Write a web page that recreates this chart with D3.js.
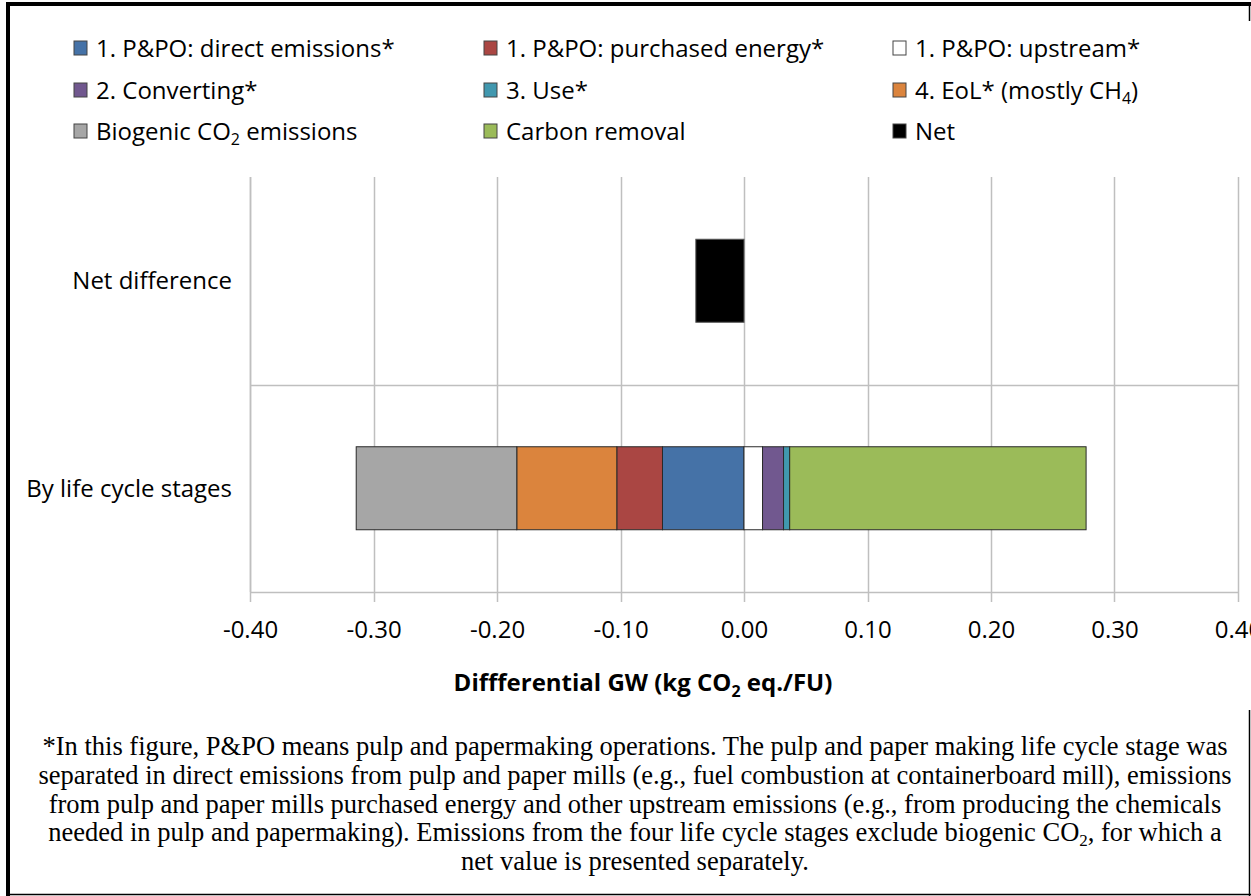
<!DOCTYPE html>
<html>
<head>
<meta charset="utf-8">
<script src="https://cdn.jsdelivr.net/npm/d3@7"></script>
<style>
  html, body { margin: 0; padding: 0; background: #fff; }
  svg { display: block; }
</style>
</head>
<body>
<svg id="chart" width="1251" height="896"></svg>
<script>
// ---------- data ----------
const categories = ["Net difference", "By life cycle stages"];
const seriesKeys = ["direct", "purchased", "upstream", "converting", "use", "eol", "biogenic", "removal", "net"];
const seriesLabels = [
  "1. P&PO: direct emissions*",
  "1. P&PO: purchased energy*",
  "1. P&PO: upstream*",
  "2. Converting*",
  "3. Use*",
  "4. EoL* (mostly CH_{4})",
  "Biogenic CO_{2} emissions",
  "Carbon removal",
  "Net"
];
const seriesColors = ["#4572A7", "#AA4643", "#FFFFFF", "#71588F", "#4198AF", "#DB843D", "#A6A6A6", "#9BBB59", "#000000"];
// values per category: [Net difference, By life cycle stages]
const directEmissions = [0, -0.066];
const purchasedEnergy = [0, -0.037];
const upstreamEm      = [0, 0.015];
const converting      = [0, 0.017];
const useStage        = [0, 0.005];
const endOfLife       = [0, -0.081];
const biogenicCO2     = [0, -0.130];
const carbonRemoval   = [0, 0.240];
const netValue        = [-0.039, 0];
const xTicks = [-0.40, -0.30, -0.20, -0.10, 0.00, 0.10, 0.20, 0.30, 0.40];
const xTitle = "Diffferential GW (kg CO_{2} eq./FU)";
const captionLines = [
  "*In this figure, P&PO means pulp and papermaking operations. The pulp and paper making life cycle stage was",
  "separated in direct emissions from pulp and paper mills (e.g., fuel combustion at containerboard mill), emissions",
  "from pulp and paper mills purchased energy and other upstream emissions (e.g., from producing the chemicals",
  "needed in pulp and papermaking). Emissions from the four life cycle stages exclude biogenic CO_{2}, for which a",
  "net value is presented separately."
];

const seriesValues = [directEmissions, purchasedEnergy, upstreamEm, converting, useStage, endOfLife, biogenicCO2, carbonRemoval, netValue];
const table = categories.map((c, i) => {
  const row = { category: c };
  seriesKeys.forEach((k, j) => row[k] = seriesValues[j][i]);
  return row;
});

// ---------- helpers ----------
function richText(sel, str, subSize, shift) {
  const parts = str.split(/(_\{[^}]*\})/).filter(p => p);
  let pendingUp = false;
  parts.forEach(p => {
    const m = p.match(/^_\{([^}]*)\}$/);
    if (m) {
      sel.append("tspan").attr("font-size", subSize).attr("dy", shift).text(m[1]);
      pendingUp = true;
    } else {
      const ts = sel.append("tspan").text(p);
      if (pendingUp) { ts.attr("dy", -shift); pendingUp = false; }
    }
  });
}

// ---------- layout ----------
const svg = d3.select("#chart");
const plot = { left: 250, right: 1238, top: 177, bottom: 592 };

const x = d3.scaleLinear().domain([-0.4, 0.4]).range([plot.left, plot.right]);
const y = d3.scaleBand().domain(categories).range([plot.top, plot.bottom]).paddingInner(0.6).paddingOuter(0.3);

// borders
svg.append("rect").attr("x", 6).attr("y", 2).attr("width", 1245).attr("height", 4).attr("fill", "#000");
svg.append("rect").attr("x", 6).attr("y", 2).attr("width", 4).attr("height", 894).attr("fill", "#000");
svg.append("line").attr("x1", 1249.5).attr("x2", 1249.5).attr("y1", 2).attr("y2", 21).attr("stroke", "#000").attr("stroke-width", 1.5);
svg.append("line").attr("x1", 1249.5).attr("x2", 1249.5).attr("y1", 710).attr("y2", 896).attr("stroke", "#000").attr("stroke-width", 1.5);
svg.append("line").attr("x1", 6).attr("x2", 1251).attr("y1", 894.5).attr("y2", 894.5).attr("stroke", "#000").attr("stroke-width", 1.5);

// vertical gridlines
const gridColor = "#BFBFBF";
svg.append("g").selectAll("line").data(xTicks).join("line")
  .attr("x1", d => Math.round(x(d)) + 0.5).attr("x2", d => Math.round(x(d)) + 0.5)
  .attr("y1", plot.top).attr("y2", plot.bottom + 10)
  .attr("stroke", gridColor).attr("stroke-width", 1.5);

// category gridline (between categories)
const step = y.step();
const sepY = Math.round(y(categories[1]) - step * y.paddingInner() / 2) + 0.5;
svg.append("line").attr("x1", plot.left).attr("x2", plot.right).attr("y1", sepY).attr("y2", sepY)
  .attr("stroke", gridColor).attr("stroke-width", 1.5);

// axis lines
svg.append("line").attr("x1", plot.left).attr("x2", plot.right).attr("y1", plot.bottom + 0.5).attr("y2", plot.bottom + 0.5)
  .attr("stroke", gridColor).attr("stroke-width", 1.5);
svg.append("line").attr("x1", plot.left + 0.5).attr("x2", plot.left + 0.5).attr("y1", plot.top).attr("y2", plot.bottom)
  .attr("stroke", gridColor).attr("stroke-width", 1.5);

// stacked bars
const stack = d3.stack().keys(seriesKeys).offset(d3.stackOffsetDiverging);
const layers = stack(table);
const barG = svg.append("g");
layers.forEach((layer, li) => {
  barG.selectAll(null).data(layer.filter(d => d[1] - d[0] !== 0)).join("rect")
    .attr("x", d => x(Math.min(d[0], d[1])))
    .attr("width", d => Math.abs(x(d[1]) - x(d[0])))
    .attr("y", d => y(d.data.category))
    .attr("height", y.bandwidth())
    .attr("fill", seriesColors[li])
    .attr("stroke", li === 8 ? "#555" : "#2a2a2a")
    .attr("stroke-width", 1);
});

// x axis tick labels
const fontSans = "'Open Sans', sans-serif";
const xAxis = d3.axisBottom(x).tickValues(xTicks).tickFormat(d => d.toFixed(2)).tickSize(0).tickPadding(0);
const axG = svg.append("g").attr("transform", `translate(0, ${plot.bottom})`).call(xAxis);
axG.select(".domain").remove();
axG.selectAll("text").attr("font-family", fontSans).attr("font-size", 24).attr("fill", "#000")
  .attr("dy", null).attr("y", 46);

// category labels
const yAxis = d3.axisLeft(y).tickSize(0).tickPadding(0);
const ayG = svg.append("g").attr("transform", `translate(${plot.left - 18}, 0)`).call(yAxis);
ayG.select(".domain").remove();
ayG.selectAll("text").attr("font-family", fontSans).attr("font-size", 24).attr("fill", "#000").attr("dy", "0.35em");

// x axis title
const tt = svg.append("text").attr("x", 643).attr("y", 691).attr("text-anchor", "middle")
  .attr("font-family", fontSans).attr("font-size", 24).attr("font-weight", "bold").attr("fill", "#000");
richText(tt, xTitle, 16, 6);

// legend
const legCols = [74, 484, 893];
const legRows = [48, 90, 131];
const leg = svg.append("g");
seriesLabels.forEach((lab, i) => {
  const cx = legCols[i % 3], cy = legRows[Math.floor(i / 3)];
  leg.append("rect").attr("x", cx).attr("y", cy - 7).attr("width", 13).attr("height", 14)
    .attr("fill", seriesColors[i]).attr("stroke", "#444").attr("stroke-width", 1);
  const t = leg.append("text").attr("x", cx + 22).attr("y", cy + 8.5)
    .attr("font-family", fontSans).attr("font-size", 24).attr("fill", "#000");
  richText(t, lab, 16, 5);
});

// caption
const cap = svg.append("g");
captionLines.forEach((line, i) => {
  const t = cap.append("text").attr("x", 635).attr("y", 755 + i * 28.8).attr("text-anchor", "middle")
    .attr("font-family", "'Liberation Serif', 'Times New Roman', serif").attr("font-size", 26.5).attr("fill", "#000");
  richText(t, line, 17, 5);
});
</script>
</body>
</html>
